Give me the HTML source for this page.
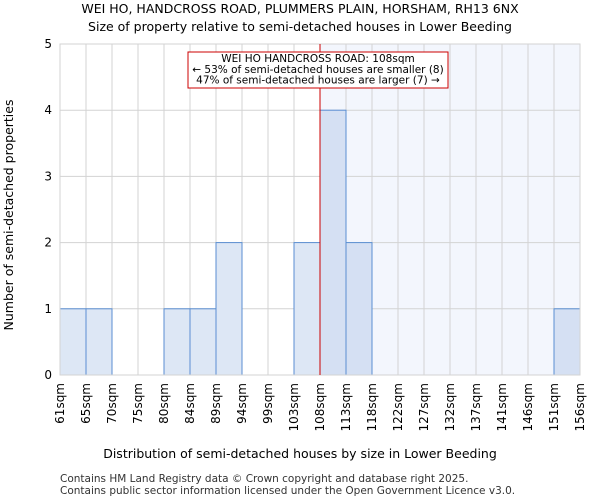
<!DOCTYPE html>
<html><head><meta charset="utf-8"><style>
body{margin:0;background:#fff;font-family:"DejaVu Sans","Liberation Sans",sans-serif}
</style></head><body>
<svg id="c" width="600" height="500" xmlns="http://www.w3.org/2000/svg" font-family="DejaVu Sans, Liberation Sans, sans-serif">
<text x="300" y="13" text-anchor="middle" font-size="12.5">WEI HO, HANDCROSS ROAD, PLUMMERS PLAIN, HORSHAM, RH13 6NX</text>
<text x="300" y="31" text-anchor="middle" font-size="12.5">Size of property relative to semi-detached houses in Lower Beeding</text>
<g id="plot"></g>
<text x="300" y="458" text-anchor="middle" font-size="12.5">Distribution of semi-detached houses by size in Lower Beeding</text>
<text transform="translate(13,215) rotate(-90)" text-anchor="middle" font-size="12.5">Number of semi-detached properties</text>
<text x="60" y="482" font-size="10.5" fill="#333">Contains HM Land Registry data © Crown copyright and database right 2025.</text>
<text x="60" y="494" font-size="10.5" fill="#333">Contains public sector information licensed under the Open Government Licence v3.0.</text>
</svg>
<script>
const binLabels=["61sqm","65sqm","70sqm","75sqm","80sqm","84sqm","89sqm","94sqm","99sqm","103sqm","108sqm","113sqm","118sqm","122sqm","127sqm","132sqm","137sqm","141sqm","146sqm","151sqm","156sqm"];
const counts=[1,1,0,0,1,1,2,0,0,2,4,2,0,0,0,0,0,0,0,1];
const yTicks=[0,1,2,3,4,5];
const markerIndex=10;
const x0=60,x1=580,y0=375,y1=44,yMax=5;
const bw=(x1-x0)/counts.length;
const X=i=>x0+i*bw, Y=v=>y0-(v/yMax)*(y0-y1);
const g=document.getElementById('plot'),NS="http://www.w3.org/2000/svg";
function mk(t,a){const e=document.createElementNS(NS,t);for(const k in a)e.setAttribute(k,a[k]);g.appendChild(e);return e;}
let e=mk('rect',{x:X(markerIndex),y:y1,width:x1-X(markerIndex),height:y0-y1,fill:'#f3f6fd'});


binLabels.forEach((l,i)=>{e=mk('line',{x1:X(i),x2:X(i),y1:y1,y2:y0,stroke:'#d3d3d3','stroke-width':1});

});
yTicks.forEach(v=>{e=mk('line',{x1:x0,x2:x1,y1:Y(v),y2:Y(v),stroke:'#d3d3d3','stroke-width':1});


e=mk('text',{x:x0-8,y:Y(v)+4,'text-anchor':'end','font-size':12});e.textContent=v;

});
counts.forEach((c,i)=>{if(!c)return;e=mk('rect',{x:X(i),y:Y(c),width:bw,height:y0-Y(c),fill:i>=markerIndex?'#d5e0f3':'#dde7f5',stroke:'#5a8ed2','stroke-width':1});

});
e=mk('rect',{x:x0,y:y1,width:x1-x0,height:y0-y1,fill:'none',stroke:'#d3d3d3'});


binLabels.forEach((l,i)=>{e=mk('text',{transform:`translate(${X(i)+4},383) rotate(-90)`,'text-anchor':'end','font-size':12});e.textContent=l;

});
e=mk('line',{x1:X(markerIndex),x2:X(markerIndex),y1:y1,y2:y0,stroke:'#cc0000','stroke-width':1});


e=mk('rect',{x:188,y:52,width:260,height:36,fill:'#fff',stroke:'#cc0000','stroke-width':1});


["WEI HO HANDCROSS ROAD: 108sqm","← 53% of semi-detached houses are smaller (8)","47% of semi-detached houses are larger (7) →"].forEach((t,i)=>{e=mk('text',{x:318,y:62+i*10.8,'text-anchor':'middle','font-size':10.5});e.textContent=t;

});
</script>
</body></html>
